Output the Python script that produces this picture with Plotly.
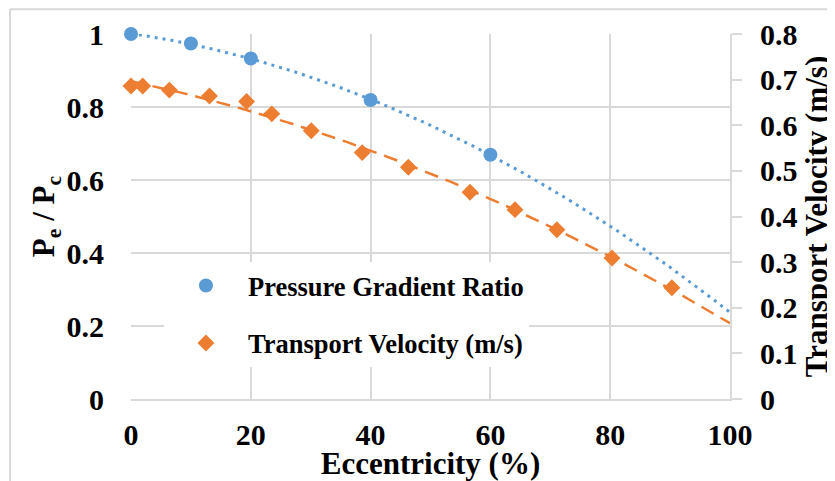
import numpy as np
import plotly.graph_objects as go

# Data
pg_x = [0, 10, 20, 40, 60]
pg_y = [1.0, 0.974, 0.933, 0.819, 0.669]

tv_x = [0, 1.95, 6.4, 13.1, 19.3, 23.5, 30.1, 38.6, 46.3, 56.6, 64.1, 71.1, 80.3, 90.3]
tv_y = [0.686, 0.686, 0.677, 0.664, 0.652, 0.625, 0.588, 0.540, 0.508, 0.453, 0.415, 0.371, 0.309, 0.244]

x_ticks = [0, 20, 40, 60, 80, 100]
y_ticks = [0, 0.2, 0.4, 0.6, 0.8, 1]
y2_ticks = [0, 0.1, 0.2, 0.3, 0.4, 0.5, 0.6, 0.7, 0.8]

BLUE = "#5b9bd5"
ORANGE = "#ed7d31"
GRID = "#d9d9d9"
FONT = "Liberation Serif"

# polynomial (order 2) trendlines, as in the original chart
trend_x = np.linspace(0, 100, 101)
pg_fit = np.polyval(np.polyfit(pg_x, pg_y, 2), trend_x)
tv_fit = np.polyval(np.polyfit(tv_x, tv_y, 2), trend_x)

fig = go.Figure()
fig.add_trace(go.Scatter(x=trend_x, y=pg_fit, mode="lines", showlegend=False,
                         line=dict(color=BLUE, width=3, dash="3px,5px"), hoverinfo="skip"))
fig.add_trace(go.Scatter(x=trend_x, y=tv_fit, mode="lines", showlegend=False, yaxis="y2",
                         line=dict(color=ORANGE, width=2.5, dash="14px,8px"), hoverinfo="skip"))
fig.add_trace(go.Scatter(x=pg_x, y=pg_y, mode="markers", name="Pressure Gradient Ratio",
                         legendgroup="a", cliponaxis=False,
                         marker=dict(color=BLUE, size=14, symbol="circle")))
fig.add_trace(go.Scatter(x=tv_x, y=tv_y, mode="markers", name="Transport Velocity (m/s)",
                         legendgroup="b", yaxis="y2", cliponaxis=False,
                         marker=dict(color=ORANGE, size=13, symbol="diamond")))

fig.update_layout(
    width=827, height=473,
    margin=dict(l=123, r=105, t=26, b=82, autoexpand=False),
    paper_bgcolor="white", plot_bgcolor="white",
    font=dict(family=FONT, size=30, color="black", weight="bold"),
    xaxis=dict(range=[0, 100], tickvals=x_ticks, showgrid=True, gridcolor=GRID, gridwidth=1.5,
               showline=True, linecolor=GRID, linewidth=2, zeroline=False,
               ticks="", ticklabelstandoff=8,
               tickfont=dict(family=FONT, size=30, weight="bold"),
               title=dict(text="Eccentricity (%)", font=dict(family=FONT, size=31, weight="bold"),
                          standoff=6)),
    yaxis=dict(range=[0, 1], tickvals=y_ticks, showgrid=True, gridcolor=GRID, gridwidth=1.5,
               zeroline=False, showline=False, ticks="", ticklabelstandoff=26,
               tickfont=dict(family=FONT, size=30, weight="bold"),
               title=dict(text="P<sub>e</sub> / P<sub>c</sub>",
                          font=dict(family=FONT, size=31, weight="bold"), standoff=2)),
    yaxis2=dict(range=[0, 0.8], tickvals=y2_ticks, overlaying="y", side="right", showgrid=False,
                zeroline=False, showline=True, linecolor=GRID, linewidth=2,
                ticks="outside", ticklen=10, tickcolor=GRID, tickwidth=2, ticklabelstandoff=12,
                tickfont=dict(family=FONT, size=30, weight="bold"),
                title=dict(text="Transport Velocity (m/s)",
                           font=dict(family=FONT, size=31, weight="bold"), standoff=9)),
    legend=dict(x=0.055, y=0.376, xanchor="left", yanchor="top", bgcolor="white",
                font=dict(family=FONT, size=26.5, weight="bold", color="black"),
                itemwidth=74, tracegroupgap=20, traceorder="grouped"),
    shapes=[
        dict(type="line", xref="paper", yref="paper", x0=-0.202, x1=-0.202, y0=-0.3, y1=1.068,
             line=dict(color=GRID, width=2)),
        dict(type="line", xref="paper", yref="paper", x0=-0.202, x1=1.3, y0=1.068, y1=1.068,
             line=dict(color=GRID, width=2)),
    ],
)

fig.write_html("out.html")
